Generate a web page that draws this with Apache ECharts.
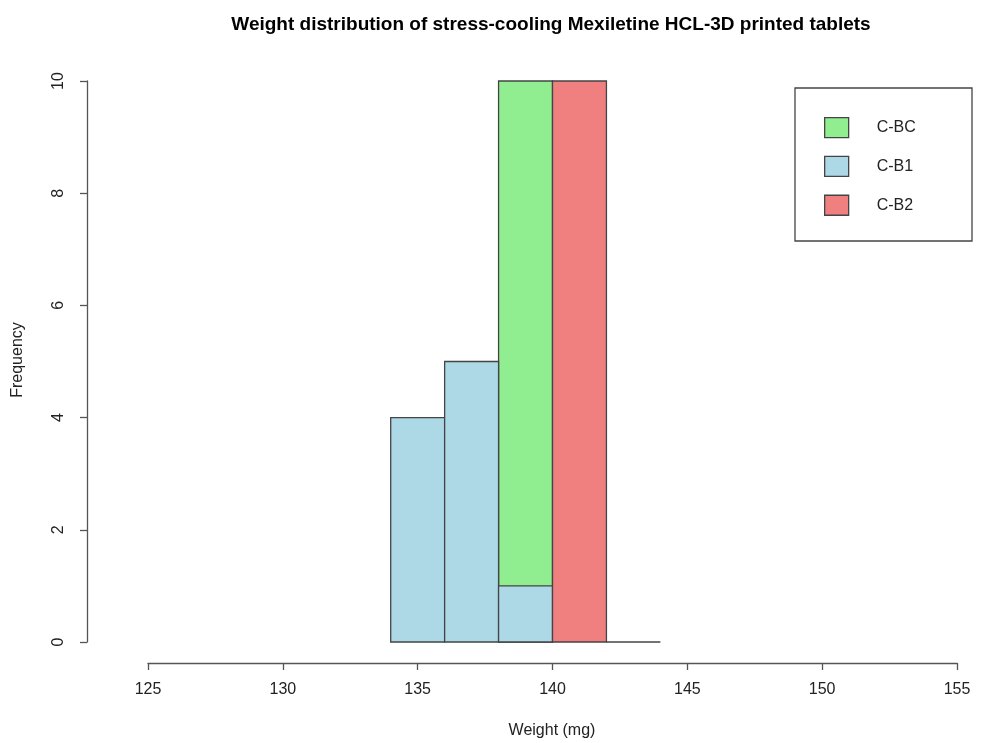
<!DOCTYPE html>
<html>
<head>
<meta charset="utf-8">
<script src="https://cdn.jsdelivr.net/npm/echarts@6/dist/echarts.min.js"></script>
<style>
    html, body {margin: 0; padding: 0; background: #fff;}
    #chart {width: 984px; height: 743px;}
</style>
</head>
<body>
<div id="chart"></div>
<script>
//  直方图数据（分箱边界 + 频数）
const seriesNames = ['C-BC', 'C-B1', 'C-B2'];
const cbcBreaks = [138, 140];
const cbcCounts = [10];
const cb1Breaks = [134, 136, 138, 140];
const cb1Counts = [4, 5, 1];
const cb2Breaks = [140, 142, 144];
const cb2Counts = [10, 0];
const colorConfig = ['#90EE90', '#ADD8E6', '#F08080'];

const font = 'Liberation Sans, Arial, sans-serif';
const lineColor = '#555555';

//  分箱 -> [起点, 终点, 频数]
function toBins(breaks, counts) {
    return counts.map(function (c, i) {
        return [breaks[i], breaks[i + 1], c];
    });
}

function renderBar(params, api) {
    const start = api.value(0);
    const end = api.value(1);
    const count = api.value(2);
    const p0 = api.coord([start, count]);
    const p1 = api.coord([end, 0]);
    if (count === 0) {
        //  频数为0的箱只画一条底线
        return {
            type: 'line',
            shape: {x1: p0[0], y1: p1[1], x2: p1[0], y2: p1[1]},
            style: {stroke: '#444', lineWidth: 1.3}
        };
    }
    return {
        type: 'rect',
        shape: {x: p0[0], y: p0[1], width: p1[0] - p0[0], height: p1[1] - p0[1]},
        style: {fill: api.visual('color'), stroke: '#444', lineWidth: 1.3}
    };
}

const histData = [
    toBins(cbcBreaks, cbcCounts),
    toBins(cb1Breaks, cb1Counts),
    toBins(cb2Breaks, cb2Counts),
];

const option = {
    animation: false,
    color: colorConfig,
    title: {
        text: 'Weight distribution of stress-cooling Mexiletine HCL-3D printed tablets',
        left: 546,
        top: 10,
        textAlign: 'center',
        textStyle: {fontFamily: font, fontSize: 19, fontWeight: 'bold', color: '#000'}
    },
    grid: {
        left: 148,
        right: 27,
        top: 81,
        bottom: 101,
    },
    xAxis: {
        type: 'value',
        min: 125,
        max: 155,
        interval: 5,
        offset: 21,
        axisLine: {show: true, onZero: false, lineStyle: {color: lineColor, width: 1.3}},
        axisTick: {show: true, length: 7, lineStyle: {color: lineColor, width: 1.3}},
        axisLabel: {color: '#222', fontSize: 16, fontFamily: font, margin: 19},
        splitLine: {show: false},
    },
    yAxis: {
        type: 'value',
        min: 0,
        max: 10,
        interval: 2,
        offset: 61,
        axisLine: {show: true, onZero: false, lineStyle: {color: lineColor, width: 1.3}},
        axisTick: {show: true, length: 7, lineStyle: {color: lineColor, width: 1.3}},
        axisLabel: {color: '#222', fontSize: 16, fontFamily: font, margin: 20, rotate: 90},
        splitLine: {show: false},
    },
    legend: {
        data: seriesNames,
        orient: 'vertical',
        left: 824,
        top: 117,
        padding: 0,
        itemWidth: 24,
        itemHeight: 20,
        itemGap: 17.5,
        icon: 'rect',
        selectedMode: false,
        itemStyle: {borderColor: '#444', borderWidth: 1.3},
        textStyle: {fontFamily: font, fontSize: 16, color: '#222', padding: [0, 0, 0, 23]},
    },
    graphic: [
        {
            type: 'rect',
            shape: {x: 795, y: 88, width: 177, height: 153},
            style: {fill: 'none', stroke: '#444', lineWidth: 1.3}
        },
        {
            type: 'text',
            x: 552,
            y: 731,
            style: {text: 'Weight (mg)', font: '16px ' + font, fill: '#222', align: 'center', verticalAlign: 'middle'}
        },
        {
            type: 'text',
            x: 18,
            y: 360,
            rotation: Math.PI / 2,
            style: {text: 'Frequency', font: '16px ' + font, fill: '#222', align: 'center', verticalAlign: 'middle'}
        }
    ],
    series: seriesNames.map(function (name, i) {
        return {
            name: name,
            type: 'custom',
            renderItem: renderBar,
            encode: {x: [0, 1], y: 2},
            data: histData[i],
            z: 2 + i,
        };
    }),
};

const myChart = echarts.init(document.getElementById('chart'));
myChart.setOption(option);
</script>
</body>
</html>
